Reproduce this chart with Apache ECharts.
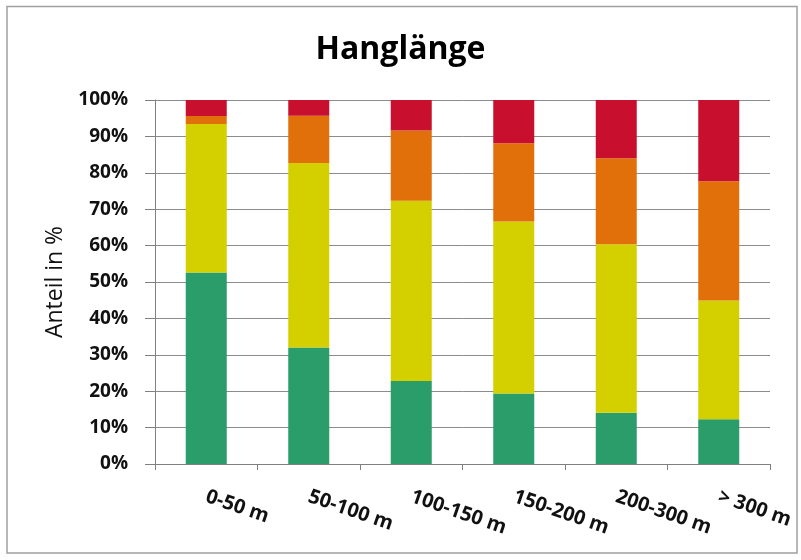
<!DOCTYPE html>
<html><head><meta charset="utf-8">
<script src="https://cdn.jsdelivr.net/npm/echarts@6/dist/echarts.min.js"></script>
<style>html,body{margin:0;padding:0;background:#fff}#c{width:801px;height:560px}</style>
</head><body><div id="c"></div>
<script>
const categories = ['0-50 m', '50-100 m', '100-150 m', '150-200 m', '200-300 m', '> 300 m'];
const greenVals  = [52.6, 32.0, 22.8, 19.4, 14.1, 12.3];
const yellowVals = [40.8, 50.7, 49.5, 47.2, 46.3, 32.6];
const orangeVals = [2.2, 13.0, 19.3, 21.5, 23.6, 32.8];
const redVals    = [4.4, 4.3, 8.4, 11.9, 16.0, 22.3];
const yTicks = [0, 10, 20, 30, 40, 50, 60, 70, 80, 90, 100];

const font = 'Open Sans, Liberation Sans, sans-serif';
function s(name, data, color) {
  return { name, type: 'bar', stack: 'a', data, barCategoryGap: '60%', itemStyle: { color }, emphasis: { disabled: true } };
}
const chart = echarts.init(document.getElementById('c'), null, { renderer: 'canvas' });
chart.setOption({
  animation: false,
  backgroundColor: '#fff',
  title: { text: 'Hanglänge', left: 'center', top: 29, textStyle: { fontFamily: font, fontSize: 32, fontWeight: 'bold', color: '#000' } },
  graphic: [{ type: 'rect', shape: { x: 7, y: 6.5, width: 790, height: 546.5 }, style: { fill: 'none', stroke: '#a0a0a0', lineWidth: 1.5 }, silent: true }],
  grid: { left: 155, right: 31, top: 100, bottom: 96 },
  xAxis: {
    type: 'category', data: categories,
    axisLine: { lineStyle: { color: '#808080' } },
    axisTick: { show: true, length: 6, lineStyle: { color: '#808080' } },
    axisLabel: { rotate: -19, margin: 32, fontFamily: font, fontWeight: 'bold', fontSize: 20, color: '#111' }
  },
  yAxis: {
    type: 'value', min: 0, max: 100, interval: 10,
    name: 'Anteil in %', nameLocation: 'middle', nameGap: 88, nameRotate: 90,
    nameTextStyle: { fontFamily: font, fontSize: 23, fontWeight: 'normal', color: '#111' },
    axisLine: { show: true, lineStyle: { color: '#808080' } },
    axisTick: { show: true, length: 10, lineStyle: { color: '#808080' } },
    splitLine: { lineStyle: { color: '#8c8c8c' } },
    axisLabel: { margin: 27, fontFamily: font, fontWeight: 'bold', fontSize: 19, color: '#111',
      formatter: v => yTicks.includes(v) ? v + '%' : '' }
  },
  series: [
    s('1', greenVals, '#2A9D6A'),
    s('2', yellowVals, '#D4D000'),
    s('3', orangeVals, '#E2700A'),
    s('4', redVals, '#C8102E')
  ]
});
</script></body></html>
